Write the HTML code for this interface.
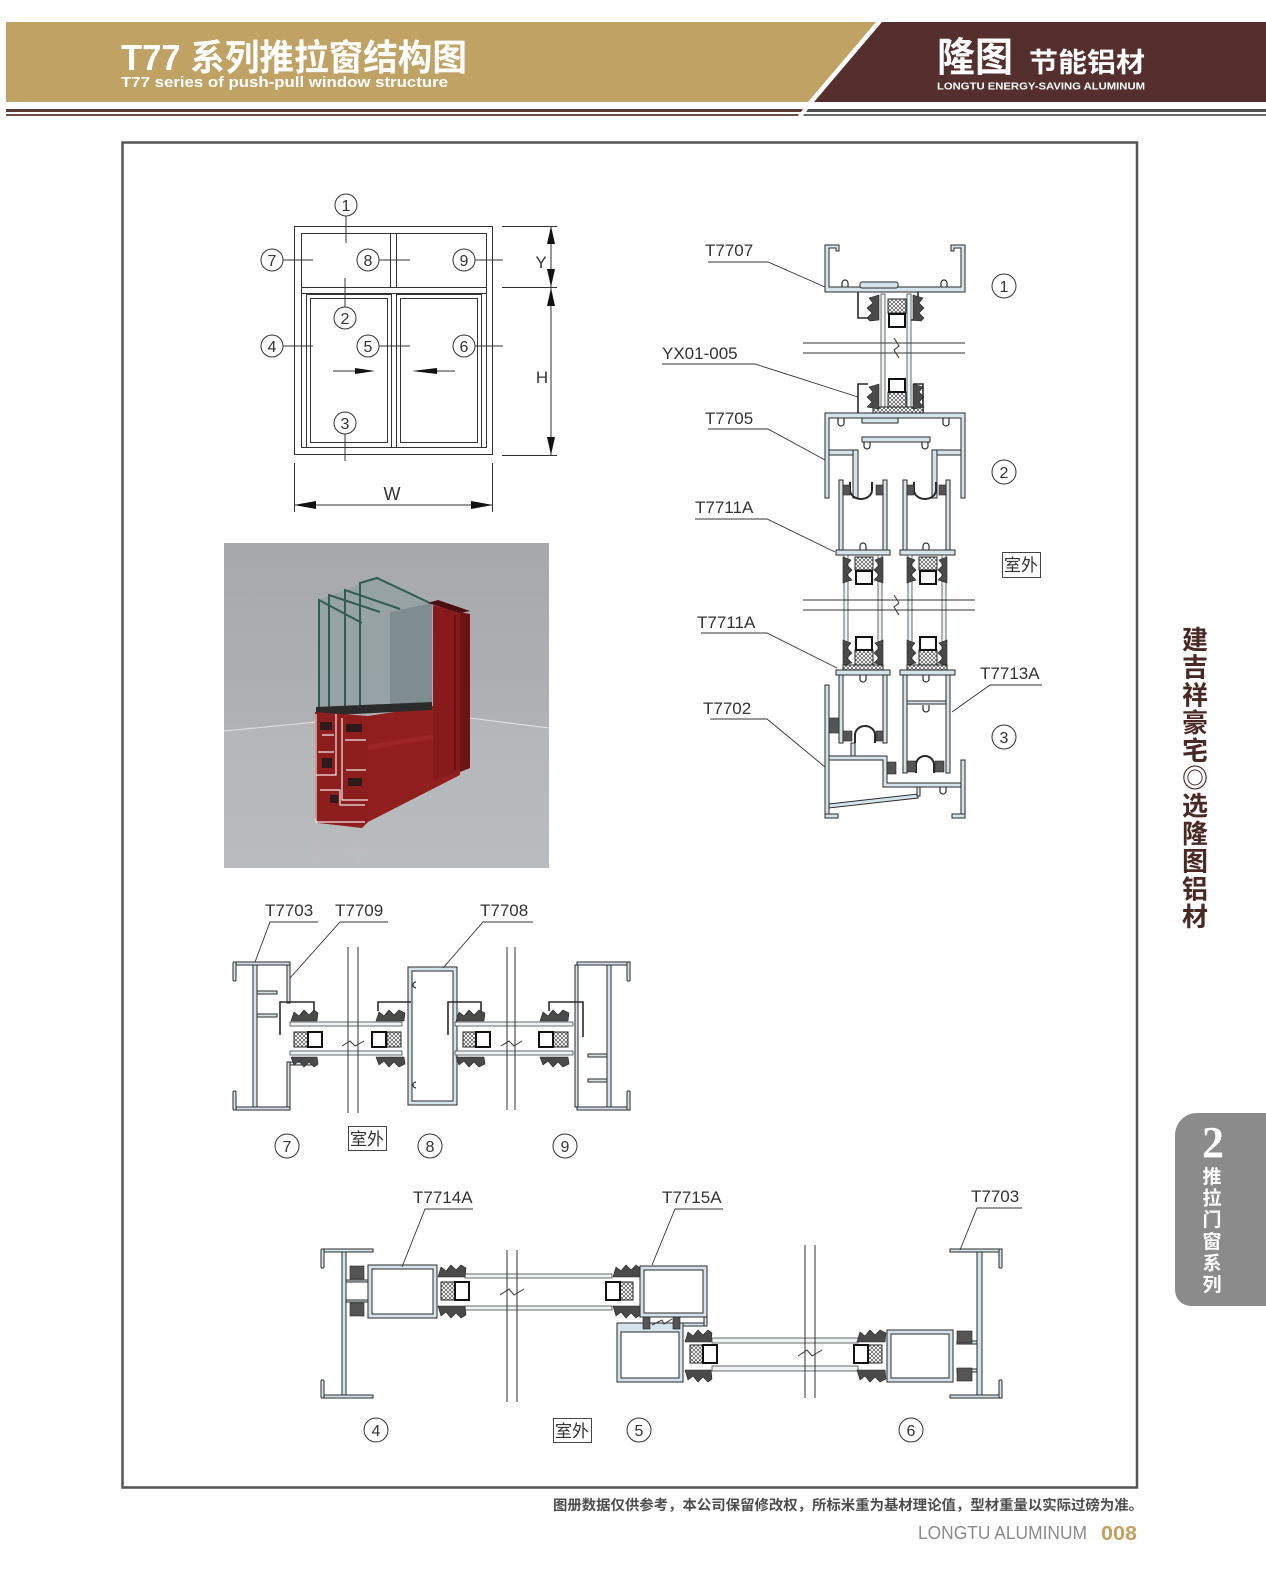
<!DOCTYPE html>
<html><head><meta charset="utf-8">
<style>
html,body{margin:0;padding:0;background:#fff;}
svg{display:block;}
text{font-family:"Liberation Sans","Noto Sans CJK SC",sans-serif;}
.cj{font-family:"Liberation Sans","Noto Sans CJK SC",sans-serif;}
</style></head><body>
<svg width="1266" height="1592" viewBox="0 0 1266 1592" xmlns="http://www.w3.org/2000/svg">
<defs>
<pattern id="xh" width="4" height="4" patternUnits="userSpaceOnUse"><rect width="4" height="4" fill="#fff"/><path d="M0,0 L4,4 M4,0 L0,4" stroke="#333" stroke-width="0.6"/></pattern>
<linearGradient id="bg" x1="0" y1="0" x2="0" y2="1"><stop offset="0" stop-color="#a6a8ab"/><stop offset="0.55" stop-color="#afb1b4"/><stop offset="1" stop-color="#bcbec1"/></linearGradient>
</defs>

<!-- HEADER -->
<polygon points="6,22 876,22 808,102 6,102" fill="#c1a265"/>
<polygon points="882,22 1266,22 1266,102 814,102" fill="#552f2d"/>
<polygon points="6,109 803,109 801,112 6,112" fill="#5b3934"/>
<polygon points="6,114 799,114 798,116 6,116" fill="#6e4d47"/>
<polygon points="808,109 1266,109 1266,112 806,112" fill="#505050"/>
<polygon points="804,114 1266,114 1266,116 803,116" fill="#6a6a6a"/>
<text x="121" y="70" font-size="36" font-weight="bold" fill="#fff" textLength="346" lengthAdjust="spacingAndGlyphs">T77 系列推拉窗结构图</text>
<text x="121" y="87" font-size="15" font-weight="bold" fill="#fff" textLength="327" lengthAdjust="spacingAndGlyphs">T77 series of push-pull window structure</text>
<text x="937" y="71" font-size="40" font-weight="bold" fill="#fff" textLength="76" lengthAdjust="spacingAndGlyphs">隆图</text>
<text x="1029" y="72" font-size="27" font-weight="bold" fill="#fff" textLength="116" lengthAdjust="spacingAndGlyphs">节能铝材</text>
<text x="937" y="89.5" font-size="10.5" font-weight="bold" fill="#fff" textLength="208" lengthAdjust="spacingAndGlyphs">LONGTU ENERGY-SAVING ALUMINUM</text>

<!-- MAIN FRAME -->
<rect x="122.5" y="142.5" width="1014.5" height="1345" fill="none" stroke="#555" stroke-width="2.5"/>

<!-- SIDE TEXT -->
<g font-size="26" font-weight="bold" fill="#4a2824" text-anchor="middle">
<text x="1195" y="649">建</text><text x="1195" y="676.7">吉</text><text x="1195" y="704.4">祥</text><text x="1195" y="732.1">豪</text><text x="1195" y="759.8">宅</text><text x="1195" y="787.5">◎</text><text x="1195" y="815.2">选</text><text x="1195" y="842.9">隆</text><text x="1195" y="870.6">图</text><text x="1195" y="898.3">铝</text><text x="1195" y="926">材</text>
</g>
<path d="M1266,1113 H1197 A22,22 0 0 0 1175,1135 V1290 A16,16 0 0 0 1191,1306 H1266 Z" fill="#8b8b8b"/>
<text x="1213" y="1157" font-size="44" font-weight="bold" fill="#fff" text-anchor="middle" style="font-family:'Liberation Serif',serif">2</text>
<g font-size="19" font-weight="bold" fill="#fff" text-anchor="middle">
<text x="1212" y="1183">推</text><text x="1212" y="1204.6">拉</text><text x="1212" y="1226.2">门</text><text x="1212" y="1247.8">窗</text><text x="1212" y="1269.4">系</text><text x="1212" y="1291">列</text>
</g>

<!-- FOOTER -->
<text x="553" y="1510" font-size="14" font-weight="bold" fill="#4d4d4d" textLength="590" lengthAdjust="spacingAndGlyphs">图册数据仅供参考，本公司保留修改权，所标米重为基材理论值，型材重量以实际过磅为准。</text>
<text x="918" y="1539" font-size="18" fill="#8a8a8a" textLength="169" lengthAdjust="spacingAndGlyphs">LONGTU ALUMINUM</text>
<text x="1101" y="1540" font-size="20" font-weight="bold" fill="#c4a05e" textLength="36" lengthAdjust="spacingAndGlyphs">008</text>

<!-- WINDOW ELEVATION -->
<g fill="none" stroke="#333" stroke-width="1">
<rect x="294.5" y="226.5" width="198" height="228"/>
<rect x="301.5" y="233.5" width="185" height="214"/>
<line x1="301" y1="287.5" x2="487" y2="287.5"/>
<line x1="301" y1="293.5" x2="487" y2="293.5"/>
<line x1="390.5" y1="233" x2="390.5" y2="287"/>
<line x1="396.5" y1="233" x2="396.5" y2="287"/>
<rect x="306.5" y="294.5" width="85" height="153"/>
<rect x="310.5" y="298.5" width="77" height="144"/>
<rect x="396.5" y="294.5" width="85" height="153"/>
<rect x="400.5" y="298.5" width="77" height="144"/>
<line x1="346" y1="216" x2="346" y2="243"/>
<line x1="283" y1="260" x2="313" y2="260"/>
<line x1="379" y1="260" x2="410" y2="260"/>
<line x1="475" y1="260" x2="503" y2="260"/>
<line x1="345" y1="307" x2="345" y2="278"/>
<line x1="283" y1="346" x2="313" y2="346"/>
<line x1="379" y1="346" x2="410" y2="346"/>
<line x1="475" y1="346" x2="503" y2="346"/>
<line x1="345" y1="434" x2="345" y2="461"/>
<line x1="551" y1="226" x2="551" y2="455"/>
<line x1="502" y1="226.5" x2="557" y2="226.5"/>
<line x1="502" y1="287.5" x2="557" y2="287.5"/>
<line x1="502" y1="455.5" x2="557" y2="455.5"/>
<line x1="294.5" y1="463" x2="294.5" y2="512"/>
<line x1="492.5" y1="463" x2="492.5" y2="512"/>
<line x1="294" y1="505" x2="493" y2="505"/>
<line x1="333" y1="371" x2="358" y2="371"/>
<line x1="437" y1="371" x2="455" y2="371"/>
</g>
<g fill="#111">
<polygon points="551,226 547,244 555,244"/>
<polygon points="551,287 547,269 555,269"/>
<polygon points="551,288 547,306 555,306"/>
<polygon points="551,455 547,437 555,437"/>
<polygon points="294,505 316,501 316,509"/>
<polygon points="493,505 471,501 471,509"/>
<polygon points="375,371 355,368 355,374"/>
<polygon points="412,371 437,368 437,374"/>
</g>
<g fill="#fff" stroke="#333" stroke-width="1">
<circle cx="346" cy="205" r="11"/><circle cx="272" cy="260" r="11"/><circle cx="368" cy="260" r="11"/><circle cx="464" cy="260" r="11"/>
<circle cx="345" cy="318" r="11"/><circle cx="272" cy="346" r="11"/><circle cx="368" cy="346" r="11"/><circle cx="464" cy="346" r="11"/>
<circle cx="345" cy="423" r="11"/>
</g>
<g font-size="16" fill="#333" text-anchor="middle">
<text x="346" y="211">1</text><text x="272" y="266">7</text><text x="368" y="266">8</text><text x="464" y="266">9</text>
<text x="345" y="324">2</text><text x="272" y="352">4</text><text x="368" y="352">5</text><text x="464" y="352">6</text>
<text x="345" y="429">3</text>
<text x="541" y="268" font-size="17">Y</text><text x="542" y="383" font-size="17">H</text><text x="392" y="500" font-size="18">W</text>
</g>

<!-- PHOTO -->
<rect x="224" y="543" width="325" height="325" fill="url(#bg)"/>
<polygon points="224,731 316,722 470,718 549,728 549,868 224,868" fill="#b8babd" opacity="0.6"/>
<polyline points="224,731 316,722" stroke="#e0e2e4" stroke-width="1" fill="none"/>
<polyline points="470,718 549,728" stroke="#e0e2e4" stroke-width="1" fill="none"/>
<polygon points="318,600 377,578 432,603 432,705 318,712" fill="#94a1a3" opacity="0.9"/>
<polygon points="390,612 432,603 432,705 390,707" fill="#6f7e83" opacity="0.6"/>
<g stroke="#2f5d55" stroke-width="2" fill="none">
<path d="M319,710 V600 L362,623"/>
<path d="M329,710 V595 L380,612"/>
<path d="M345,710 V590 L400,609"/>
<path d="M360,710 V583 L377,578 L430,603"/>
</g>
<polygon points="368,716 433,706 460,706 460,775 368,822" fill="#921f1f"/>
<polygon points="368,745 460,730 460,734 368,750" fill="#a52a2a" opacity="0.6"/>
<polygon points="433,605 460,612 460,772 433,780" fill="#871b1b"/>
<polygon points="460,612 470,614 470,768 460,772" fill="#6c1414"/>
<polygon points="428,603 438,600 470,611 460,613" fill="#4a0f0f"/>
<line x1="455" y1="615" x2="455" y2="770" stroke="#5a1010" stroke-width="1.5"/>
<polygon points="316,707 432,702 432,710 316,716" fill="#2b2b2b"/>
<polygon points="315,712 368,716 368,822 362,828 318,823 315,818" fill="#8e1d1d"/>
<g stroke="#f0e6e6" stroke-width="1.2" fill="none">
<path d="M316,714 V822 H365"/><path d="M336,714 V775 H316"/><path d="M342,718 V800 H368"/>
<path d="M322,735 H334 M345,740 H366 M318,752 H334 M346,770 H366 M320,790 H340 V805 H365"/>
</g>
<g fill="#2e1a1a"><rect x="320" y="722" width="12" height="8"/><rect x="346" y="724" width="16" height="8"/><rect x="322" y="758" width="10" height="10"/><rect x="348" y="778" width="14" height="8"/><rect x="330" y="795" width="8" height="8"/></g>
<g stroke="#c9b9bb" stroke-width="1" fill="none" opacity="0.5"><path d="M318,835 V860 M330,840 H360 V866 M345,850 H372"/></g>

<!-- RIGHT VERTICAL SECTION -->
<g stroke="#2a2a2a" stroke-width="1" fill="#d5e4ec">
<path d="M825,245 H839 V251 H836 V248 H829 V287 H961 V248 H954 V251 H951 V245 H965 V292 H825 Z"/>
<rect x="860" y="282" width="38" height="6" rx="2"/>
<path d="M825,413 H965 V498 H961 V418 H829 V498 H825 Z"/>
<rect x="862" y="418" width="36" height="5"/>
<rect x="829" y="450" width="24" height="5"/>
<rect x="935" y="450" width="26" height="5"/>
<rect x="862" y="437" width="68" height="5"/>
<rect x="853" y="450" width="5" height="48"/>
<rect x="932" y="450" width="5" height="48"/>
<rect x="839" y="480" width="4" height="72"/>
<rect x="883" y="480" width="4" height="72"/>
<rect x="903" y="480" width="4" height="72"/>
<rect x="946" y="480" width="4" height="72"/>
<rect x="836" y="550" width="54" height="5"/>
<rect x="900" y="550" width="55" height="5"/>
<rect x="836" y="670" width="54" height="5"/>
<rect x="900" y="670" width="55" height="5"/>
<rect x="839" y="675" width="4" height="68"/>
<rect x="883" y="675" width="4" height="68"/>
<rect x="903" y="675" width="4" height="98"/>
<rect x="946" y="675" width="4" height="98"/>
<rect x="907" y="701" width="39" height="3"/>
<rect x="825" y="685" width="4" height="132"/>
<rect x="825" y="814" width="13" height="4"/>
<path d="M829,756 H887 V783 H962 V787 H883 V760 H829 Z"/>
<rect x="851" y="743" width="4" height="13"/>
<polygon points="829,804 918,794 918,798 829,808"/>
<rect x="917" y="787" width="3" height="9"/>
<rect x="961" y="760" width="4" height="57"/>
<rect x="952" y="814" width="13" height="4"/>
</g>
<g fill="none" stroke="#2a2a2a" stroke-width="1.2">
<path d="M842,287 v-4 a3,3 0 0 1 6,0 v4"/>
<path d="M941,287 v-4 a3,3 0 0 1 6,0 v4"/>
<path d="M838,418 v5 a3,3 0 0 0 6,0 v-5"/>
<path d="M943,418 v5 a3,3 0 0 0 6,0 v-5"/>
<path d="M864,442 v4 a3,3 0 0 0 6,0 v-4"/>
<path d="M922,442 v4 a3,3 0 0 0 6,0 v-4"/>
<path d="M860,550 v-4 a3,3 0 0 1 6,0 v4"/>
<path d="M923,550 v-4 a3,3 0 0 1 6,0 v4"/>
<path d="M860,675 v4 a3,3 0 0 0 6,0 v-4"/>
<path d="M923,675 v4 a3,3 0 0 0 6,0 v-4"/>
<path d="M923,705 v4 a3,3 0 0 0 6,0 v-4"/>
<path d="M940,787 v4 a3,3 0 0 0 6,0 v-4"/>
<path d="M850,482 V490 a11,9 0 0 0 22,0 V482" stroke-width="2"/>
<path d="M914,482 V490 a11,9 0 0 0 22,0 V482" stroke-width="2"/>
<path d="M855,743 V735 a10,9 0 0 1 20,0 V743" stroke-width="2"/>
<path d="M916,773 V765 a9,9 0 0 1 18,0 V773" stroke-width="2"/>
<path d="M858,292 V318 H868" stroke-width="1.6"/>
<path d="M918,292 V320 H908" stroke-width="1.6"/>
<path d="M858,413 V384 H868" stroke-width="1.6"/>
<path d="M923,413 V384 H913" stroke-width="1.6"/>
</g>
<g fill="#eef3f6" stroke="#444" stroke-width="0.8">
<rect x="881" y="294" width="4" height="116"/>
<rect x="907" y="294" width="4" height="116"/>
<rect x="844" y="555" width="4" height="115"/>
<rect x="878" y="555" width="4" height="115"/>
<rect x="908" y="555" width="4" height="115"/>
<rect x="942" y="555" width="4" height="115"/>
</g>
<g fill="url(#xh)" stroke="#222" stroke-width="1">
<rect x="888" y="299" width="18" height="14"/>
<rect x="888" y="392" width="18" height="15"/>
<rect x="873" y="407" width="50" height="6"/>
<rect x="855" y="557" width="18" height="13"/>
<rect x="919" y="557" width="18" height="13"/>
<rect x="855" y="650" width="18" height="15"/>
<rect x="919" y="650" width="18" height="15"/>
<rect x="843" y="665" width="40" height="5"/>
<rect x="907" y="665" width="40" height="5"/>
</g>
<g fill="#fff" stroke="#111" stroke-width="2">
<rect x="889" y="314" width="16" height="13"/>
<rect x="889" y="379" width="16" height="13"/>
<rect x="856" y="571" width="16" height="13"/>
<rect x="920" y="571" width="16" height="13"/>
<rect x="856" y="637" width="16" height="13"/>
<rect x="920" y="637" width="16" height="13"/>
</g>
<g fill="#4a4a4a" stroke="#222" stroke-width="0.6">
<polygon points="879,295 869,298 873,303 867,308 872,313 867,318 870,321 879,320"/>
<polygon points="913,295 923,298 919,303 924,308 919,313 924,318 921,321 913,320"/>
<polygon points="879,384 869,387 873,392 867,397 872,402 867,407 879,409"/>
<polygon points="913,384 923,387 919,392 924,397 919,402 924,407 913,409"/>
<polygon points="843,557 851,560 847,565 852,570 847,575 852,580 843,583"/>
<polygon points="883,557 875,560 879,565 874,570 879,575 874,580 883,583"/>
<polygon points="907,557 915,560 911,565 916,570 911,575 916,580 907,583"/>
<polygon points="947,557 939,560 943,565 938,570 943,575 938,580 947,583"/>
<polygon points="843,640 851,643 847,648 852,653 847,658 852,663 843,665"/>
<polygon points="883,640 875,643 879,648 874,653 879,658 874,663 883,665"/>
<polygon points="907,640 915,643 911,648 916,653 911,658 916,663 907,665"/>
<polygon points="947,640 939,643 943,648 938,653 943,658 938,663 947,665"/>
</g>
<g fill="#555" stroke="#222" stroke-width="0.6">
<rect x="843" y="485" width="7" height="10"/><rect x="876" y="485" width="7" height="10"/>
<rect x="907" y="485" width="7" height="10"/><rect x="939" y="485" width="7" height="10"/>
<rect x="829" y="718" width="10" height="15"/>
<rect x="843" y="731" width="9" height="10"/><rect x="876" y="731" width="7" height="10"/>
<rect x="887" y="762" width="9" height="12"/>
<rect x="907" y="761" width="9" height="11"/><rect x="935" y="761" width="9" height="11"/>
</g>
<g stroke="#333" stroke-width="1" fill="none">
<line x1="803" y1="343" x2="965" y2="343"/><line x1="803" y1="353" x2="965" y2="353"/>
<path d="M894,338 L899,346 L894,350 L899,358"/>
<line x1="803" y1="600" x2="975" y2="600"/><line x1="803" y1="610" x2="975" y2="610"/>
<path d="M894,595 L899,603 L894,607 L899,615"/>
</g>
<g stroke="#333" stroke-width="0.9" fill="none">
<path d="M708,262 H768 L825,287"/>
<path d="M662,364 H755 L858,397"/>
<path d="M708,429 H768 L825,460"/>
<path d="M695,519 H767 L835,552"/>
<path d="M701,633 H767 L837,668"/>
<path d="M1042,685 H990 L952,712"/>
<path d="M710,719 H767 L825,767"/>
</g>
<g font-size="17" fill="#333">
<text x="705" y="256">T7707</text>
<text x="662" y="359">YX01-005</text>
<text x="705" y="424">T7705</text>
<text x="695" y="513">T7711A</text>
<text x="697" y="628">T7711A</text>
<text x="980" y="679">T7713A</text>
<text x="703" y="714">T7702</text>
</g>
<rect x="1002.5" y="552.5" width="38" height="25" fill="none" stroke="#444" stroke-width="1"/>
<text x="1021" y="571" font-size="17" fill="#333" text-anchor="middle">室外</text>

<!-- BOTTOM-LEFT SECTION 7 8 9 -->
<g stroke="#2a2a2a" stroke-width="1" fill="#d5e4ec">
<rect x="253" y="963" width="4" height="147"/>
<rect x="236" y="962" width="54" height="3"/>
<rect x="233" y="962" width="3" height="19" rx="1"/>
<rect x="236" y="1107" width="54" height="3"/>
<rect x="233" y="1091" width="3" height="19" rx="1"/>
<rect x="287" y="965" width="3" height="38"/>
<rect x="287" y="1062" width="3" height="45"/>
<rect x="290" y="1062" width="27" height="3"/>
<rect x="257" y="991" width="20" height="3"/>
<rect x="257" y="1014" width="20" height="3"/>
<rect x="408" y="967" width="49" height="138"/>
<rect x="607" y="963" width="4" height="147"/>
<rect x="577" y="962" width="53" height="3"/>
<rect x="627" y="962" width="3" height="19" rx="1"/>
<rect x="577" y="1107" width="53" height="3"/>
<rect x="627" y="1091" width="3" height="19" rx="1"/>
<rect x="575" y="965" width="3" height="142"/>
<rect x="588" y="1054" width="19" height="3"/>
<rect x="588" y="1079" width="19" height="3"/>
</g>
<rect x="412" y="971" width="41" height="130" fill="#fff" stroke="#2a2a2a"/>
<g fill="none" stroke="#2a2a2a" stroke-width="1.2">
<path d="M416,982 a3,3 0 1 0 0,6"/><path d="M416,1082 a3,3 0 1 0 0,6"/>
</g>
<g fill="none" stroke="#2a2a2a" stroke-width="1.6">
<path d="M280,1035 V1002 H314 V1011"/>
<path d="M378,1011 V1002 H411"/>
<path d="M448,1035 V1002 H481 V1011"/>
<path d="M549,1011 V1002 H583 V1037"/>
</g>
<g fill="#eef3f6" stroke="#444" stroke-width="0.8">
<rect x="290" y="1022" width="112" height="4"/>
<rect x="290" y="1051" width="112" height="4"/>
<rect x="455" y="1022" width="118" height="4"/>
<rect x="455" y="1051" width="118" height="4"/>
</g>
<g fill="url(#xh)" stroke="#222" stroke-width="1">
<rect x="294" y="1032" width="14" height="15"/>
<rect x="387" y="1032" width="14" height="15"/>
<rect x="463" y="1032" width="13" height="15"/>
<rect x="553" y="1032" width="15" height="15"/>
</g>
<g fill="#fff" stroke="#111" stroke-width="2">
<rect x="308" y="1032" width="14" height="15"/>
<rect x="372" y="1032" width="14" height="15"/>
<rect x="476" y="1032" width="14" height="15"/>
<rect x="539" y="1032" width="14" height="15"/>
</g>
<g fill="#4a4a4a" stroke="#222" stroke-width="0.6">
<polygon points="291,1021 294,1012 299,1016 304,1010 309,1015 314,1010 318,1013 317,1021"/>
<polygon points="291,1057 294,1065 299,1061 304,1067 309,1062 314,1067 318,1064 317,1057"/>
<polygon points="376,1021 379,1012 384,1016 389,1010 394,1015 399,1010 405,1013 404,1021"/>
<polygon points="376,1057 379,1065 384,1061 389,1067 394,1062 399,1067 405,1064 404,1057"/>
<polygon points="456,1021 459,1012 464,1016 469,1010 474,1015 479,1010 485,1013 484,1021"/>
<polygon points="456,1057 459,1065 464,1061 469,1067 474,1062 479,1067 485,1064 484,1057"/>
<polygon points="540,1021 543,1012 548,1016 553,1010 558,1015 563,1010 569,1013 568,1021"/>
<polygon points="540,1057 543,1065 548,1061 553,1067 558,1062 563,1067 569,1064 568,1057"/>
</g>
<g stroke="#333" stroke-width="1" fill="none">
<line x1="348" y1="947" x2="348" y2="1113"/><line x1="358" y1="947" x2="358" y2="1113"/>
<path d="M342,1046 L350,1041 L355,1046 L364,1041"/>
<line x1="507" y1="947" x2="507" y2="1110"/><line x1="515" y1="947" x2="515" y2="1110"/>
<path d="M501,1046 L509,1041 L514,1046 L522,1041"/>
</g>
<g stroke="#333" stroke-width="0.9" fill="none">
<path d="M318,922 H270 L255,962"/>
<path d="M388,922 H340 L290,978"/>
<path d="M533,922 H483 L443,968"/>
</g>
<g font-size="17" fill="#333">
<text x="265" y="916">T7703</text><text x="335" y="916">T7709</text><text x="480" y="916">T7708</text>
</g>
<rect x="348.5" y="1126.5" width="38" height="24" fill="none" stroke="#444" stroke-width="1"/>
<text x="367" y="1145" font-size="17" fill="#333" text-anchor="middle">室外</text>

<!-- BOTTOM SECTION 4 5 6 -->
<g stroke="#2a2a2a" stroke-width="1" fill="#d5e4ec">
<rect x="342" y="1250" width="4" height="148"/>
<rect x="323" y="1249" width="50" height="3"/>
<rect x="321" y="1249" width="3" height="19" rx="1"/>
<rect x="323" y="1395" width="50" height="3"/>
<rect x="321" y="1380" width="3" height="18" rx="1"/>
<rect x="346" y="1280" width="22" height="2"/>
<rect x="346" y="1300" width="22" height="2"/>
<rect x="368" y="1265" width="69" height="53"/>
<rect x="640" y="1266" width="67" height="51"/>
<rect x="617" y="1323" width="66" height="59"/>
<rect x="683" y="1323" width="24" height="3"/>
<rect x="704" y="1317" width="3" height="9"/>
<rect x="887" y="1330" width="66" height="52"/>
<rect x="977" y="1250" width="5" height="148"/>
<rect x="950" y="1249" width="52" height="3"/>
<rect x="999" y="1249" width="3" height="19" rx="1"/>
<rect x="950" y="1395" width="52" height="3"/>
<rect x="999" y="1380" width="3" height="18" rx="1"/>
<rect x="957" y="1341" width="20" height="3"/>
<rect x="957" y="1369" width="20" height="3"/>
</g>
<g fill="#fff" stroke="#2a2a2a" stroke-width="1">
<rect x="372" y="1269" width="61" height="45"/>
<rect x="644" y="1270" width="59" height="43"/>
<rect x="621" y="1332" width="58" height="46"/>
<rect x="891" y="1334" width="58" height="44"/>
</g>
<g fill="#555" stroke="#222" stroke-width="0.6">
<rect x="350" y="1266" width="14" height="13"/><rect x="350" y="1303" width="14" height="13"/>
<rect x="643" y="1317" width="7" height="12"/><rect x="673" y="1317" width="7" height="12"/>
<rect x="957" y="1331" width="15" height="12"/><rect x="957" y="1368" width="15" height="13"/>
</g>
<path d="M652,1325 L662,1320 L664,1324 L672,1319" stroke="#333" fill="none"/>
<g fill="#eef3f6" stroke="#444" stroke-width="0.8">
<rect x="465" y="1274" width="147" height="4"/>
<rect x="465" y="1306" width="147" height="4"/>
<rect x="712" y="1338" width="146" height="5"/>
<rect x="712" y="1366" width="146" height="5"/>
</g>
<g fill="url(#xh)" stroke="#222" stroke-width="1">
<rect x="441" y="1282" width="14" height="18"/>
<rect x="620" y="1282" width="13" height="18"/>
<rect x="690" y="1345" width="13" height="18"/>
<rect x="868" y="1345" width="14" height="18"/>
</g>
<g fill="#fff" stroke="#111" stroke-width="2">
<rect x="455" y="1282" width="14" height="18"/>
<rect x="606" y="1282" width="14" height="18"/>
<rect x="703" y="1345" width="14" height="18"/>
<rect x="854" y="1345" width="14" height="18"/>
</g>
<g fill="#4a4a4a" stroke="#222" stroke-width="0.6">
<polygon points="438,1277 441,1267 446,1271 451,1265 456,1270 461,1265 466,1268 465,1277"/>
<polygon points="438,1306 441,1316 446,1312 451,1318 456,1313 461,1318 466,1315 465,1306"/>
<polygon points="613,1277 616,1267 621,1271 626,1265 631,1270 636,1265 640,1268 640,1277"/>
<polygon points="613,1306 616,1316 621,1312 626,1318 631,1313 636,1318 640,1315 640,1306"/>
<polygon points="685,1342 688,1332 693,1336 698,1330 703,1335 708,1330 712,1333 711,1342"/>
<polygon points="685,1370 688,1380 693,1376 698,1382 703,1377 708,1382 712,1379 711,1370"/>
<polygon points="857,1342 860,1332 865,1336 870,1330 875,1335 880,1330 886,1333 885,1342"/>
<polygon points="857,1370 860,1380 865,1376 870,1382 875,1377 880,1382 886,1379 885,1370"/>
</g>
<g stroke="#333" stroke-width="1" fill="none">
<line x1="507" y1="1250" x2="507" y2="1402"/><line x1="517" y1="1250" x2="517" y2="1402"/>
<path d="M500,1295 L509,1289 L514,1295 L524,1289"/>
<line x1="805" y1="1245" x2="805" y2="1398"/><line x1="815" y1="1245" x2="815" y2="1398"/>
<path d="M798,1356 L807,1350 L812,1356 L822,1350"/>
</g>
<g stroke="#333" stroke-width="0.9" fill="none">
<path d="M473,1209 H425 L402,1267"/>
<path d="M723,1209 H675 L652,1265"/>
<path d="M1022,1208 H977 L960,1250"/>
</g>
<g font-size="17" fill="#333">
<text x="413" y="1203">T7714A</text><text x="662" y="1203">T7715A</text><text x="971" y="1202">T7703</text>
</g>
<rect x="553.5" y="1418.5" width="38" height="24" fill="none" stroke="#444" stroke-width="1"/>
<text x="572" y="1437" font-size="17" fill="#333" text-anchor="middle">室外</text>

<!-- SECTION CIRCLES -->
<g fill="#fff" stroke="#333" stroke-width="1">
<circle cx="1004" cy="286" r="12"/><circle cx="1004" cy="472" r="12"/><circle cx="1004" cy="737" r="12"/>
<circle cx="287" cy="1146" r="12"/><circle cx="430" cy="1146" r="12"/><circle cx="565" cy="1146" r="12"/>
<circle cx="376" cy="1430" r="12"/><circle cx="639" cy="1430" r="12"/><circle cx="911" cy="1430" r="12"/>
</g>
<g font-size="16" fill="#333" text-anchor="middle">
<text x="1004" y="292">1</text><text x="1004" y="478">2</text><text x="1004" y="743">3</text>
<text x="287" y="1152">7</text><text x="430" y="1152">8</text><text x="565" y="1152">9</text>
<text x="376" y="1436">4</text><text x="639" y="1436">5</text><text x="911" y="1436">6</text>
</g>
</svg>
</body></html>
